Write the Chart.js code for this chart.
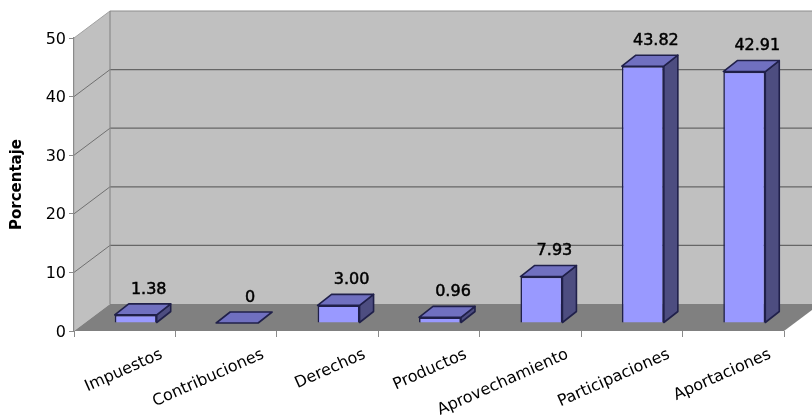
<!DOCTYPE html>
<html>
<head>
<meta charset="utf-8">
<style>html,body{margin:0;padding:0;background:#fff}canvas{display:block}</style>
<script src="https://cdn.jsdelivr.net/npm/chart.js@4"></script>
</head>
<body>
<canvas id="c" width="812" height="418"></canvas>
<script>
const categories = ['Impuestos','Contribuciones','Derechos','Productos','Aprovechamiento','Participaciones','Aportaciones'];
const values = [1.38, 0, 3.00, 0.96, 7.93, 43.82, 42.91];
const valueLabels = ['1.38','0','3.00','0.96','7.93','43.82','42.91'];

// Oblique projection of the chart box and of each column
const BOX_DX = 36, BOX_DY = -27;
const BAR_SHIFT_X = 11, BAR_SHIFT_Y = -8;
const BAR_DX = 14, BAR_DY = -11;
const FONT = '"DejaVu Sans", sans-serif';
const EDGE = '#20204a';

function poly(ctx, pts, fill, stroke, lw) {
  ctx.beginPath();
  pts.forEach((p, i) => i ? ctx.lineTo(p[0], p[1]) : ctx.moveTo(p[0], p[1]));
  ctx.closePath();
  if (fill) { ctx.fillStyle = fill; ctx.fill(); }
  if (stroke) { ctx.strokeStyle = stroke; ctx.lineWidth = lw; ctx.lineJoin = 'round'; ctx.stroke(); }
}
function line(ctx, x1, y1, x2, y2, color, lw) {
  ctx.beginPath(); ctx.moveTo(x1, y1); ctx.lineTo(x2, y2);
  ctx.strokeStyle = color; ctx.lineWidth = lw; ctx.stroke();
}

const box3d = {
  id: 'box3d',
  beforeDraw(chart) {
    const { ctx, chartArea: a, scales: { y } } = chart;
    const l = a.left, r = a.right, t = a.top, b = a.bottom;
    const bx = l + BOX_DX, right = chart.width + 8;
    ctx.save();
    poly(ctx, [[l,t],[bx,t+BOX_DY],[bx,b+BOX_DY],[l,b]], '#c0c0c0');
    poly(ctx, [[bx,t+BOX_DY],[right,t+BOX_DY],[right,b+BOX_DY],[bx,b+BOX_DY]], '#c0c0c0');
    poly(ctx, [[l,b],[r,b],[r+BOX_DX,b+BOX_DY],[bx,b+BOX_DY]], '#808080');
    y.ticks.forEach(tk => {
      const py = y.getPixelForValue(tk.value);
      if (tk.value > 0) {
        line(ctx, l, py, bx, py + BOX_DY, tk.value === 50 ? '#a0a0a0' : '#707070', 1);
        line(ctx, bx, py + BOX_DY, right, py + BOX_DY, tk.value === 50 ? '#8e8e8e' : '#666666', 1.2);
      }
    });
    line(ctx, bx, t + BOX_DY, bx, b + BOX_DY, '#8a8a8a', 1.2);
    ctx.restore();
  },
  // Front faces are drawn by the bar controller, shifted into the box
  beforeDatasetDraw(chart) {
    chart.ctx.save();
    chart.ctx.translate(BAR_SHIFT_X, BAR_SHIFT_Y);
  },
  afterDatasetDraw(chart) {
    const ctx = chart.ctx;
    chart.getDatasetMeta(0).data.forEach((el, i) => {
      const p = el.getProps(['x','y','base','width'], true);
      const x0 = p.x - p.width / 2, x1 = p.x + p.width / 2;
      if (values[i] > 0) {
        poly(ctx, [[x1,p.y],[x1+BAR_DX,p.y+BAR_DY],[x1+BAR_DX,p.base+BAR_DY],[x1,p.base]], '#4d4d80', EDGE, 1.6);
      }
      poly(ctx, [[x0,p.y],[x0+BAR_DX,p.y+BAR_DY],[x1+BAR_DX,p.y+BAR_DY],[x1,p.y]], '#7070c0', EDGE, 1.6);
    });
    ctx.restore();
  },
  afterDraw(chart) {
    const ctx = chart.ctx;
    ctx.save();
    ctx.font = '16px ' + FONT;
    ctx.fillStyle = '#000';
    ctx.strokeStyle = '#000';
    ctx.lineWidth = 0.5;
    ctx.textAlign = 'center';
    ctx.textBaseline = 'middle';
    chart.getDatasetMeta(0).data.forEach((el, i) => {
      const p = el.getProps(['x','y'], true);
      const tx = p.x + BAR_SHIFT_X + 13, ty = p.y + BAR_SHIFT_Y + BAR_DY - 14.5;
      ctx.fillText(valueLabels[i], tx, ty);
      ctx.strokeText(valueLabels[i], tx, ty);
    });
    ctx.restore();
  }
};

new Chart(document.getElementById('c'), {
  type: 'bar',
  data: {
    labels: categories,
    datasets: [{
      data: values,
      backgroundColor: '#9999ff',
      borderColor: EDGE,
      borderWidth: 1.6,
      barPercentage: 0.414,
      categoryPercentage: 1,
      clip: false
    }]
  },
  plugins: [box3d],
  options: {
    responsive: false,
    animation: false,
    layout: { padding: { top: 38, right: 28, left: 0, bottom: 0 } },
    plugins: { legend: { display: false }, tooltip: { enabled: false } },
    scales: {
      x: {
        afterFit(s) { s.height = 87; },
        grid: { drawOnChartArea: false, drawTicks: true, tickLength: 6, color: '#8a8a8a', offset: true },
        border: { display: false },
        ticks: { maxRotation: 24, minRotation: 24, autoSkip: false, color: '#000', padding: 8, labelOffset: 37, font: { family: FONT, size: 16 } }
      },
      y: {
        min: 0, max: 50,
        afterFit(s) { s.width = 74; },
        grid: { drawOnChartArea: false, drawTicks: true, tickLength: 5, color: '#8a8a8a' },
        border: { display: true, color: '#8a8a8a', width: 1.2 },
        ticks: { stepSize: 10, color: '#000', padding: 3, labelOffset: 1.5, font: { family: FONT, size: 16 } },
        title: { display: true, text: 'Porcentaje', color: '#000', padding: { top: 8, bottom: 0 }, font: { family: FONT, size: 15, weight: 'bold' } }
      }
    }
  }
});
</script>
</body>
</html>
